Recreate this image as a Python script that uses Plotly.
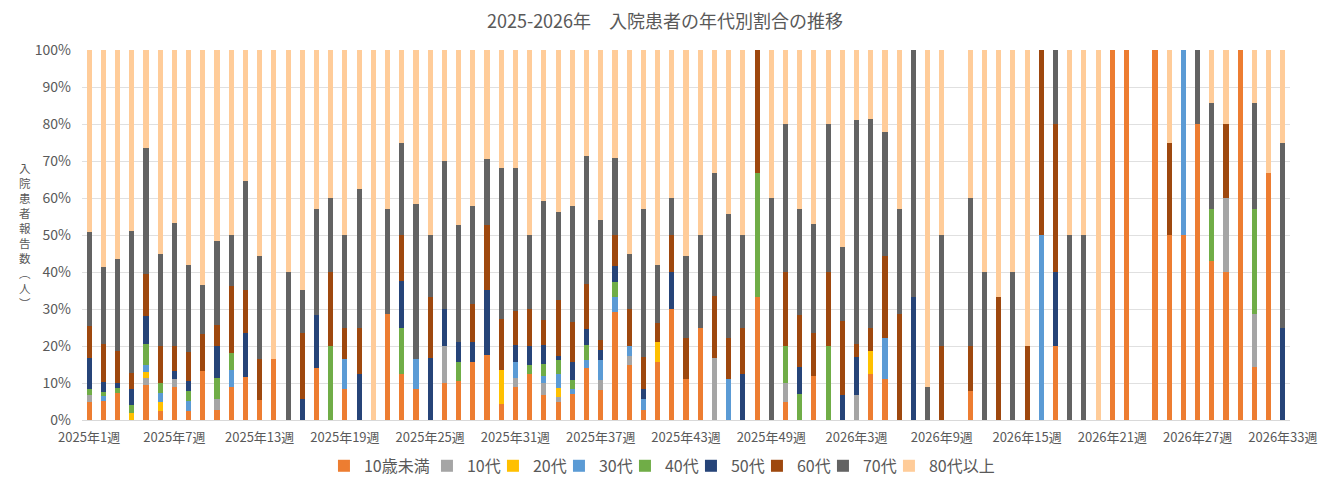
import plotly.graph_objects as go

weeks = [f"2025年{i}週" for i in range(1, 53)] + [f"2026年{i}週" for i in range(1, 34)]
tick_labels = weeks[::6]

series_names = ["10歳未満", "10代", "20代", "30代", "40代", "50代", "60代", "70代", "80代以上"]
colors = ["#ED7D31", "#A5A5A5", "#FFC000", "#5B9BD5", "#70AD47", "#264478", "#9E480E", "#636363", "#FFCC99"]

u10 = [5.0, 5.1, 7.2, 0, 9.5, 2.4, 8.9, 2.4, 13.2, 2.7,
       8.9, 11.6, 5.4, 16.5, 0, 0, 14.1, 0, 8.3, 0,
       0, 28.6, 12.5, 8.3, 0, 10, 10.5, 15.7, 17.6, 4.3,
       8.9, 12.4, 6.8, 4.9, 7.0, 14.1, 8.1, 29.2, 14.9, 2.7,
       15.7, 30, 11.1, 25, 0, 0, 0, 33.3, 0, 5,
       0, 11.8,
       0, 0, 0, 12.5, 11.1, 0, 0, 0, 0, 0,
       7.8, 0, 0, 0, 0, 0, 20, 0, 0, 0,
       100, 100, 0, 100, 50, 50, 80, 42.9, 40, 100,
       14.3, 66.7, 0]
t10 = [1.8, 0, 0, 0, 1.9, 0, 2.2, 0, 0, 3.0,
       0, 0, 0, 0, 0, 0, 0, 0, 0, 0,
       0, 0, 0, 0, 0, 10, 0, 0, 0, 0,
       2.4, 0, 3.2, 1.4, 0, 0, 2.7, 0, 2.4, 0,
       0, 0, 0, 0, 16.7, 0, 0, 0, 0, 5,
       0, 0,
       0, 0, 6.8, 0, 0, 0, 0, 0, 0, 0,
       0, 0, 0, 0, 0, 0, 0, 0, 0, 0,
       0, 0, 0, 0, 0, 0, 0, 0, 20, 0,
       14.3, 0, 0]
t20 = [0, 0, 0, 1.9, 1.6, 2.4, 0, 0, 0, 0,
       0, 0, 0, 0, 0, 0, 0, 0, 0, 0,
       0, 0, 0, 0, 0, 0, 0, 0, 0, 9.2,
       0, 0, 0, 2.4, 0, 0, 0, 0, 0, 0,
       5.4, 0, 0, 0, 0, 0, 0, 0, 0, 0,
       0, 0,
       0, 0, 0, 6.25, 0, 0, 0, 0, 0, 0,
       0, 0, 0, 0, 0, 0, 0, 0, 0, 0,
       0, 0, 0, 0, 0, 0, 0, 0, 0, 0,
       0, 0, 0]
t30 = [0, 1.5, 0, 0, 1.9, 2.4, 0, 2.7, 0, 0,
       4.6, 0, 0, 0, 0, 0, 0, 0, 8.3, 0,
       0, 0, 0, 8.3, 0, 0, 0, 0, 0, 0,
       4.3, 0, 1.9, 3.8, 1.4, 2.2, 5.4, 4.1, 2.7, 3.0,
       0, 0, 0, 0, 0, 11.1, 0, 0, 0, 0,
       0, 0,
       0, 0, 0, 0, 11.1, 0, 0, 0, 0, 0,
       0, 0, 0, 0, 0, 50, 0, 0, 0, 0,
       0, 0, 0, 0, 0, 50, 0, 0, 0, 0,
       0, 0, 0]
t40 = [1.6, 1.0, 1.4, 2.2, 5.7, 2.7, 0, 2.7, 0, 5.7,
       4.6, 0, 0, 0, 0, 0, 0, 20, 0, 0,
       0, 0, 12.5, 0, 0, 0, 5.3, 0, 0, 0,
       0, 2.4, 3.2, 3.8, 2.4, 4.1, 0, 4.1, 0, 0,
       0, 0, 0, 0, 0, 0, 0, 33.3, 0, 10,
       7.1, 0,
       20, 0, 0, 0, 0, 0, 0, 0, 0, 0,
       0, 0, 0, 0, 0, 0, 0, 0, 0, 0,
       0, 0, 0, 0, 0, 0, 0, 14.3, 0, 0,
       28.6, 0, 0]
t50 = [8.4, 2.7, 1.4, 4.3, 7.6, 0, 2.2, 2.7, 0, 8.6,
       0, 11.9, 0, 0, 0, 5.7, 14.3, 0, 0, 12.5,
       0, 0, 12.5, 0, 16.7, 10, 5.3, 5.4, 17.6, 0,
       4.6, 5.1, 5.1, 1.1, 4.9, 4.1, 2.7, 4.3, 0, 2.7,
       0, 10, 0, 0, 0, 0, 12.5, 0, 0, 0,
       7.1, 0,
       0, 6.7, 10.3, 0, 0, 0, 33.3, 0, 0, 0,
       0, 0, 0, 0, 0, 0, 20, 0, 0, 0,
       0, 0, 0, 0, 0, 0, 0, 0, 0, 0,
       0, 0, 25]
t60 = [8.7, 10.2, 8.6, 4.3, 11.4, 10.0, 6.8, 7.8, 10.0, 5.7,
       18.1, 11.6, 11.1, 0, 0, 17.8, 0, 20, 8.3, 12.5,
       0, 0, 12.5, 0, 16.7, 0, 0, 10.3, 17.6, 13.8,
       9.2, 10.0, 6.8, 15.1, 10.8, 12.4, 2.7, 8.4, 10.0, 8.6,
       5.1, 10, 11.1, 0, 16.7, 11.1, 12.5, 33.3, 0, 20,
       14.3, 11.8,
       20, 20, 3.5, 6.25, 22.2, 28.6, 0, 0, 20, 0,
       12.2, 0, 33.3, 0, 20, 50, 40, 0, 0, 0,
       0, 0, 0, 0, 25, 0, 0, 0, 20, 0,
       0, 0, 0]
t70 = [25.3, 20.8, 24.9, 38.4, 34.1, 24.9, 33.2, 23.5, 13.2, 22.7,
       13.8, 29.5, 27.8, 0, 40, 11.6, 28.6, 20, 25, 37.5,
       0, 28.6, 25, 41.7, 16.7, 40, 31.6, 26.5, 17.8, 40.8,
       38.6, 20.0, 32.2, 23.8, 31.4, 34.6, 32.4, 20.8, 14.9, 40.0,
       15.7, 10, 22.2, 25, 33.3, 33.3, 25, 0, 60, 40,
       28.6, 29.4,
       40, 20, 60.5, 56.25, 33.3, 28.6, 66.7, 8.9, 30, 0,
       40, 40, 0, 40, 0, 0, 20, 50, 50, 0,
       0, 0, 0, 0, 0, 0, 20, 28.6, 0, 0,
       28.6, 0, 50]
t80 = [49.2, 58.6, 56.5, 48.9, 26.4, 55.1, 46.8, 58.1, 63.5, 51.6,
       50.0, 35.4, 55.7, 83.5, 60, 64.9, 43.0, 40, 50, 37.5,
       100, 42.9, 25, 41.7, 50, 30, 47.4, 42.2, 29.5, 31.9,
       31.9, 50.0, 40.8, 43.8, 42.2, 28.6, 45.9, 29.2, 55.1, 43.0,
       58.1, 40, 55.6, 50, 33.3, 44.4, 50, 0, 40, 20,
       42.9, 47.1,
       20, 53.3, 18.9, 18.75, 22.2, 42.9, 0, 91.1, 50, 0,
       40, 60, 66.7, 60, 80, 0, 0, 50, 50, 100,
       0, 0, 0, 0, 25, 0, 0, 14.3, 20, 0,
       14.3, 33.3, 25]

series_values = [u10, t10, t20, t30, t40, t50, t60, t70, t80]
legend_widths = [58, 21, 21, 21, 21, 21, 21, 21, 70]

FONT = "Noto Sans CJK JP"
TXT = "#595959"

fig = go.Figure()
for name, vals, col, lw in zip(series_names, series_values, colors, legend_widths):
    fig.add_trace(go.Bar(x=weeks, y=vals, name=name, legendwidth=lw,
                         marker=dict(color=col, line=dict(width=0))))

fig.update_layout(
    barmode="stack",
    barnorm="percent",
    bargap=0.64,
    width=1330, height=488,
    autosize=False,
    margin=dict(l=74, r=48, t=42, b=76, autoexpand=False),
    paper_bgcolor="white", plot_bgcolor="white",
    font=dict(family=FONT, color=TXT, size=12),
    title=dict(text="2025-2026年　入院患者の年代別割合の推移", x=0.494, xref="container",
               y=0.971, yref="container", yanchor="middle",
               font=dict(family=FONT, size=18, color=TXT)),
    legend=dict(orientation="h", x=0.2003, xanchor="left",
                y=-0.124, yanchor="middle", font=dict(family=FONT, size=16, color=TXT),
                itemwidth=30, traceorder="normal", itemclick=False, entrywidthmode="pixels"),
    showlegend=True,
)
fig.update_xaxes(
    type="category", tickmode="array", tickvals=tick_labels, ticktext=tick_labels,
    tickangle=0, tickfont=dict(size=13, color=TXT), showgrid=False, automargin=False,
    showline=True, linecolor="#D9D9D9", linewidth=1, ticks="", ticklabelstandoff=5,
)
fig.update_yaxes(
    range=[0, 100], tickmode="array", tickvals=list(range(0, 101, 10)),
    ticktext=[f"{v}%" for v in range(0, 101, 10)], automargin=False,
    tickfont=dict(size=14, color=TXT), showgrid=True, gridcolor="#E0E0E0", gridwidth=1,
    zeroline=False, showline=False, ticks="", ticklabelstandoff=10,
)

ytitle = "入院患者報告数︵人︶"
n = len(ytitle)
step = 15
for i, ch in enumerate(ytitle):
    fig.add_annotation(text=ch, xref="paper", yref="paper", x=0, y=0.5, xanchor="center", yanchor="middle",
                       xshift=-57, yshift=((n - 1) / 2 - i) * step, showarrow=False,
                       font=dict(family=FONT, size=11.5, color=TXT))

fig.write_html("out.html")
